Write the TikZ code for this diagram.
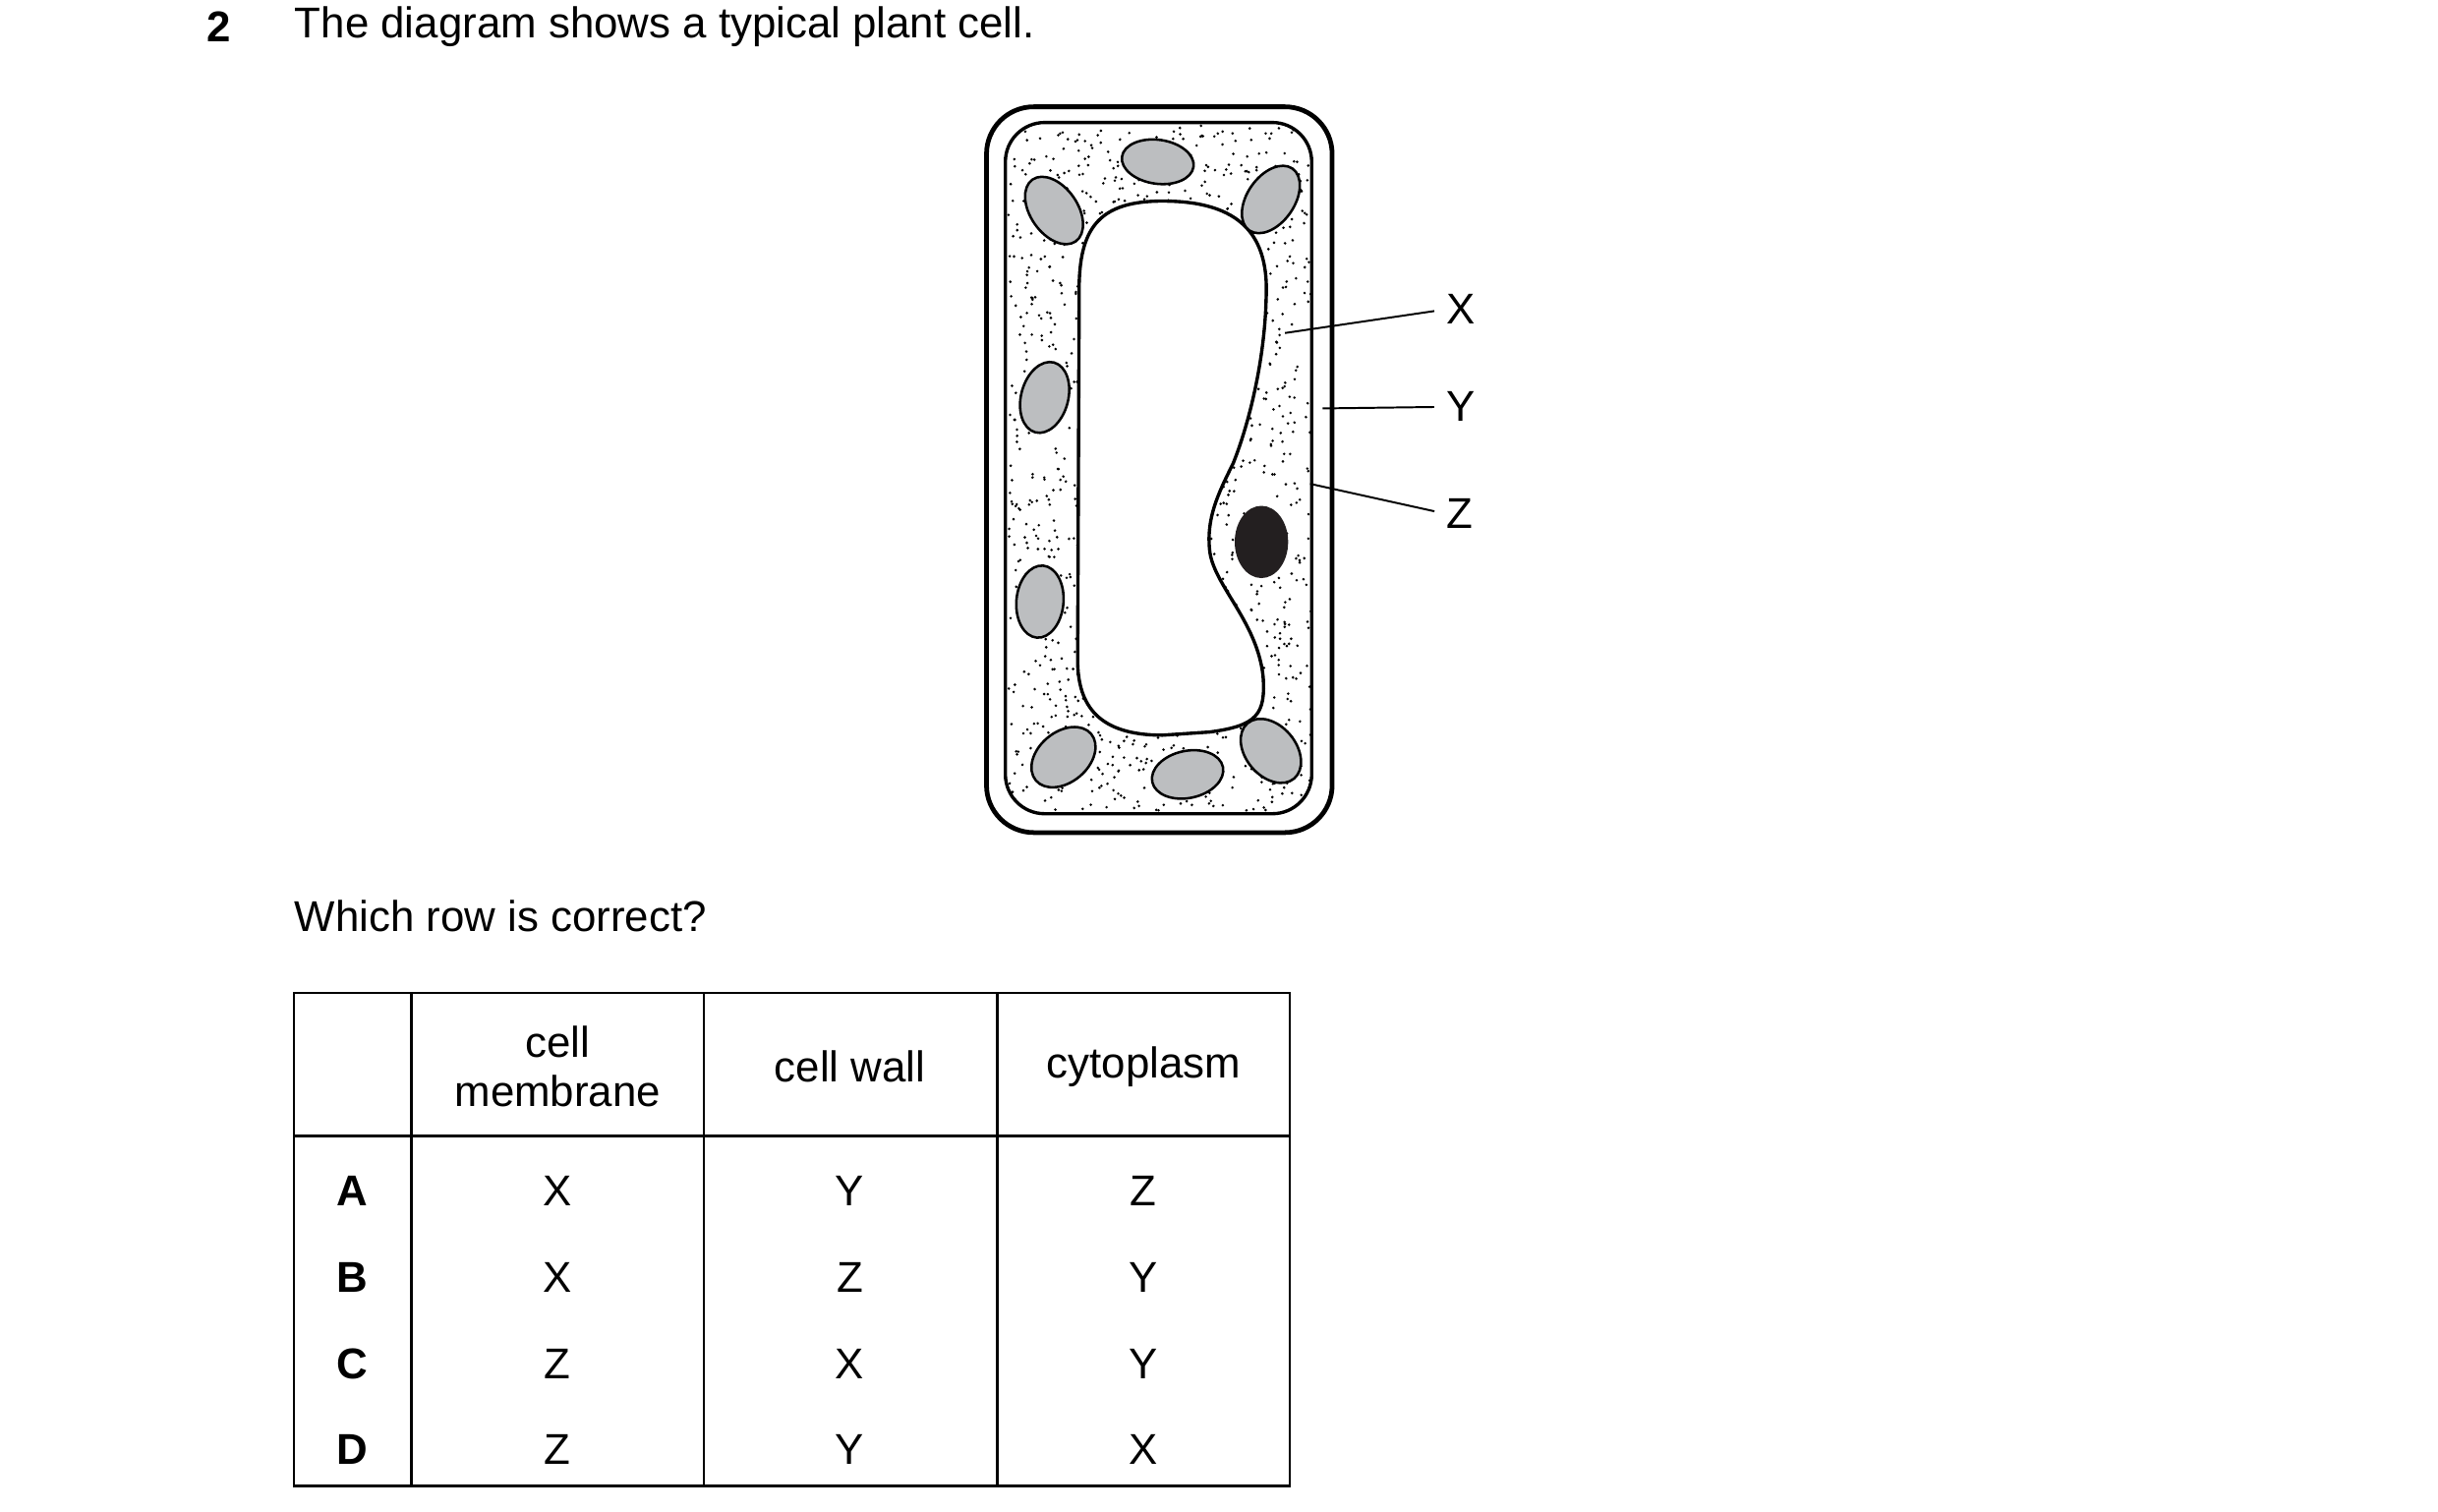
\documentclass[tikz,border=0pt]{standalone}
\usepackage{fontspec}
\setmainfont{Liberation Sans}
\usetikzlibrary{positioning}
\definecolor{chlgray}{HTML}{BCBEC0}
\definecolor{nucblack}{HTML}{231F20}
\tikzset{
  wall/.style={line width=0.85pt},
  chl/.style={draw,line width=0.45pt,fill=chlgray},
  lbl/.style={font=\fontsize{7.8}{9}\selectfont,inner sep=0pt},
  cellt/.style={font=\fontsize{7.8}{9}\selectfont,inner sep=0pt,align=center},
  grid/.style={line width=0.45pt}
}
\begin{document}
\begin{tikzpicture}[x=0.01cm,y=-0.01cm]
  \useasboundingbox (0,0) rectangle (1552,962);

  % question text
  \node[lbl,font=\bfseries\fontsize{7.8}{9}\selectfont,anchor=west] (qn) at (131,17) {2};
  \node[lbl,anchor=west] (qtext) at (187,17) {The diagram shows a typical plant cell.};

  % cell wall
  \draw[wall,rounded corners=0.3cm] (628,68) rectangle (848,530);
  \draw[line width=0.6pt,rounded corners=0.25cm] (640,78) rectangle (835,518);

  % cytoplasm dots
  \begin{scope}
    \clip[rounded corners=0.25cm] (640,78) rectangle (835,518);
    \pgfmathsetseed{7}
    \foreach \i in {1,...,1500}{
      \pgfmathsetmacro{\px}{642+193*rnd}
      \pgfmathsetmacro{\py}{80+436*rnd}
      \fill (\px,\py) circle (0.9);
    }
  \end{scope}

  % vacuole
  \draw[line width=0.6pt,fill=white] (740,128) .. controls (790,128) and (808,150) .. (806,190)
    .. controls (805,230) and (795,270) .. (785,295)
    .. controls (775,315) and (768,330) .. (770,350)
    .. controls (772,372) and (800,395) .. (804,430)
    .. controls (806,455) and (800,462) .. (770,466)
    -- (740,468) .. controls (700,468) and (686,450) .. (686,420)
    -- (687,180) .. controls (688,145) and (700,128) .. (740,128);

  % chloroplasts
  \draw[chl] (737,103) ellipse [x radius=23,y radius=14,rotate=-8];
  \draw[chl] (671,134) ellipse [x radius=24,y radius=15,rotate=-55];
  \draw[chl] (809,127) ellipse [x radius=24,y radius=15,rotate=55];
  \draw[chl] (665,253) ellipse [x radius=23,y radius=15,rotate=75];
  \draw[chl] (662,383) ellipse [x radius=23,y radius=15,rotate=85];
  \draw[chl] (677,482) ellipse [x radius=23,y radius=16,rotate=40];
  \draw[chl] (756,493) ellipse [x radius=23,y radius=15,rotate=12];
  \draw[chl] (809,478) ellipse [x radius=23,y radius=16,rotate=-50];

  % nucleus
  \fill[nucblack] (803,345) ellipse [x radius=17,y radius=23];

  % labels
  \coordinate (px) at (818,212);
  \coordinate (py) at (842,260);
  \coordinate (pz) at (834,308);
  \node[lbl,anchor=west] (lx) at (920,197) {X};
  \node[lbl,anchor=west] (ly) at (920,259) {Y};
  \node[lbl,anchor=west] (lz) at (920,327) {Z};
  \draw[line width=0.35pt,shorten >=2pt] (px) -- (lx.west);
  \draw[line width=0.35pt,shorten >=2pt] (py) -- (ly.west);
  \draw[line width=0.35pt,shorten >=2pt] (pz) -- (lz.west);

  \node[lbl,anchor=west] (which) at (187,583) {Which row is correct?};

  % table
  \draw[grid] (187,632) rectangle (821,946);
  \draw[grid] (187,723) -- (821,723);
  \foreach \x in {262,448,635}{
    \draw[grid] (\x,632) -- (\x,946);
  }
  \node[cellt] (h1) at (355,679) {cell\\membrane};
  \node[cellt] (h2) at (541,679) {cell wall};
  \node[cellt] (h3) at (728,679) {cytoplasm};
  \foreach \r/\y/\a/\b/\c in {A/758/X/Y/Z, B/813/X/Z/Y, C/868/Z/X/Y, D/923/Z/Y/X}{
    \node[cellt,font=\bfseries\fontsize{7.8}{9}\selectfont] (row\r) at (224,\y) {\r};
    \node[cellt] (row\r1) at (355,\y) {\a};
    \node[cellt] (row\r2) at (541,\y) {\b};
    \node[cellt] (row\r3) at (728,\y) {\c};
  }
\end{tikzpicture}
\end{document}
